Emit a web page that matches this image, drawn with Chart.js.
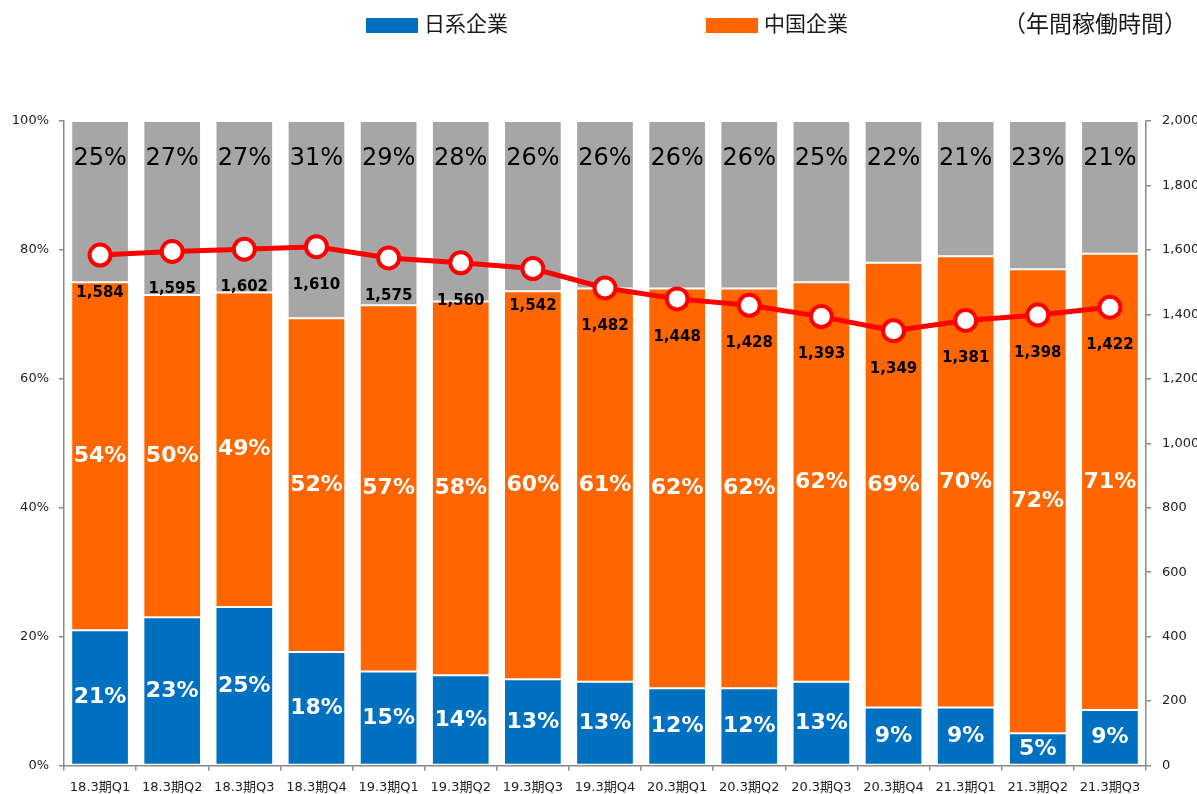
<!DOCTYPE html>
<html lang="ja">
<head>
<meta charset="utf-8">
<title>年間稼働時間</title>
<script src="https://cdn.jsdelivr.net/npm/chart.js@4.4.1/dist/chart.umd.min.js"></script>
<style>
    html, body { margin: 0; padding: 0; background: #fff; }
    #wrap { width: 1197px; height: 794px; }
</style>
</head>
<body>
<div id="wrap"><canvas id="hours_chart" width="1197" height="794"></canvas></div>
<script>
// Periods
var periods = [
    "18.3期Q1", "18.3期Q2", "18.3期Q3", "18.3期Q4",
    "19.3期Q1", "19.3期Q2", "19.3期Q3", "19.3期Q4",
    "20.3期Q1", "20.3期Q2", "20.3期Q3", "20.3期Q4",
    "21.3期Q1", "21.3期Q2", "21.3期Q3"
];

// Share of companies (%)
var japanShare = [21, 23, 24.6, 17.6, 14.6, 14, 13.4, 13, 12, 12, 13, 9, 9, 5, 8.6];
var chinaShare = [54, 50, 48.8, 51.8, 56.8, 58, 60.2, 61, 62, 62, 62, 69, 70, 72, 70.8];
var otherShare = [25, 27, 26.6, 30.6, 28.6, 28, 26.4, 26, 26, 26, 25, 22, 21, 23, 20.6];

// Annual operating hours
var annualHours = [1584, 1595, 1602, 1610, 1575, 1560, 1542, 1482, 1448, 1428, 1393, 1349, 1381, 1398, 1422];

// Axis ticks
var shareTicks = [0, 20, 40, 60, 80, 100];
var hourTicks = [0, 200, 400, 600, 800, 1000, 1200, 1400, 1600, 1800, 2000];

var FONT = "'DejaVu Sans', 'Noto Sans CJK JP', sans-serif";
var JP_FONT = "'Noto Sans CJK JP', sans-serif";

function fmt_num(v) {
    return String(v).replace(/\B(?=(\d{3})+(?!\d))/g, ",");
}

// Value labels on bars and line
var valueLabels = {
    id: "valueLabels",
    afterDatasetsDraw: function (chart) {
        var ctx = chart.ctx;
        var area = chart.chartArea;
        ctx.save();
        ctx.textAlign = "center";
        ctx.textBaseline = "middle";

        // Japanese / Chinese share, centered in segment
        [0, 1].forEach(function (di) {
            var ds = chart.data.datasets[di];
            chart.getDatasetMeta(di).data.forEach(function (bar, i) {
                ctx.font = "bold 22px " + FONT;
                ctx.fillStyle = "#fff";
                ctx.fillText(Math.round(ds.data[i]) + "%", bar.x, (bar.y + bar.base) / 2);
            });
        });

        // Others share, near top
        var other = chart.data.datasets[2];
        chart.getDatasetMeta(2).data.forEach(function (bar, i) {
            ctx.font = "24px " + FONT;
            ctx.fillStyle = "#000";
            ctx.fillText(Math.round(other.data[i]) + "%", bar.x, area.top + 38);
        });

        // Hours, under each point
        var hours = chart.data.datasets[3];
        chart.getDatasetMeta(3).data.forEach(function (pt, i) {
            ctx.font = "bold 15px " + FONT;
            ctx.fillStyle = "#000";
            ctx.fillText(fmt_num(hours.data[i]), pt.x, pt.y + 38);
        });
        ctx.restore();
    },
    afterDraw: function (chart) {
        var ctx = chart.ctx;
        ctx.save();
        ctx.textBaseline = "middle";
        ctx.font = "21px " + JP_FONT;

        // Legend (Japanese / Chinese only)
        var items = [
            { ds: chart.data.datasets[0], x: 366 },
            { ds: chart.data.datasets[1], x: 706 }
        ];
        items.forEach(function (it) {
            ctx.fillStyle = it.ds.backgroundColor;
            ctx.fillRect(it.x, 18, 52, 15);
            ctx.fillStyle = "#1a1a1a";
            ctx.textAlign = "left";
            ctx.fillText(it.ds.label, it.x + 58, 23);
        });

        // Unit note on the right
        ctx.font = "23px " + JP_FONT;
        ctx.textAlign = "left";
        ctx.fillText("（年間稼働時間）", 1003, 23);
        ctx.restore();
    }
};

function init_chart() {
    var ctx = document.getElementById("hours_chart").getContext("2d");

    Chart.defaults.font.family = FONT;
    Chart.defaults.color = "#222";

    var barStyle = {
        type: "bar",
        yAxisID: "y",
        order: 1,
        borderWidth: 1,
        borderColor: "rgba(255,255,255,0.35)",
        borderSkipped: false,
        barPercentage: 0.8,
        categoryPercentage: 1.0
    };

    var data = {
        labels: periods,
        datasets: [
            Object.assign({ label: "日系企業", data: japanShare, backgroundColor: "#0070c0" }, barStyle),
            Object.assign({ label: "中国企業", data: chinaShare, backgroundColor: "#ff6600" }, barStyle),
            Object.assign({ label: "その他", data: otherShare, backgroundColor: "#a6a6a6" }, barStyle),
            {
                type: "line",
                label: "年間稼働時間",
                data: annualHours,
                yAxisID: "y1",
                order: 0,
                borderColor: "#ff0000",
                borderWidth: 5,
                pointRadius: 10.5,
                pointBorderWidth: 4,
                pointBackgroundColor: "#fff",
                pointBorderColor: "#ff0000",
                tension: 0
            }
        ]
    };

    var axisColor = "#8a8a8a";

    var options = {
        responsive: false,
        animation: false,
        devicePixelRatio: 1,
        layout: { padding: { top: 121, right: 0, bottom: 0, left: 0 } },
        plugins: {
            legend: { display: false },
            tooltip: { enabled: false }
        },
        scales: {
            x: {
                stacked: true,
                grid: { display: true, drawOnChartArea: false, drawTicks: true, tickLength: 5, color: axisColor, lineWidth: 1.5 },
                border: { display: true, color: axisColor, width: 1.5 },
                ticks: { font: { size: 13 }, color: "#222", padding: 9, maxRotation: 0, autoSkip: false },
                afterFit: function (scale) { scale.height = 28.5; }
            },
            y: {
                stacked: true,
                min: 0,
                max: 100,
                position: "left",
                grid: { display: true, drawOnChartArea: false, tickLength: 5, color: axisColor, lineWidth: 1.5 },
                border: { display: true, color: axisColor, width: 1.5 },
                ticks: {
                    font: { size: 13 },
                    color: "#222",
                    padding: 10,
                    callback: function (v) { return v + "%"; }
                },
                afterBuildTicks: function (scale) {
                    scale.ticks = shareTicks.map(function (v) { return { value: v }; });
                },
                afterFit: function (scale) { scale.width = 64; }
            },
            y1: {
                min: 0,
                max: 2000,
                position: "right",
                grid: { display: true, drawOnChartArea: false, tickLength: 5, color: axisColor, lineWidth: 1.5 },
                border: { display: true, color: axisColor, width: 1.5 },
                ticks: {
                    font: { size: 13 },
                    color: "#222",
                    padding: 11,
                    callback: function (v) { return fmt_num(v); }
                },
                afterBuildTicks: function (scale) {
                    scale.ticks = hourTicks.map(function (v) { return { value: v }; });
                },
                afterFit: function (scale) { scale.width = 51; }
            }
        }
    };

    new Chart(ctx, {
        type: "bar",
        data: data,
        options: options,
        plugins: [valueLabels]
    });
}

init_chart();
</script>
</body>
</html>
